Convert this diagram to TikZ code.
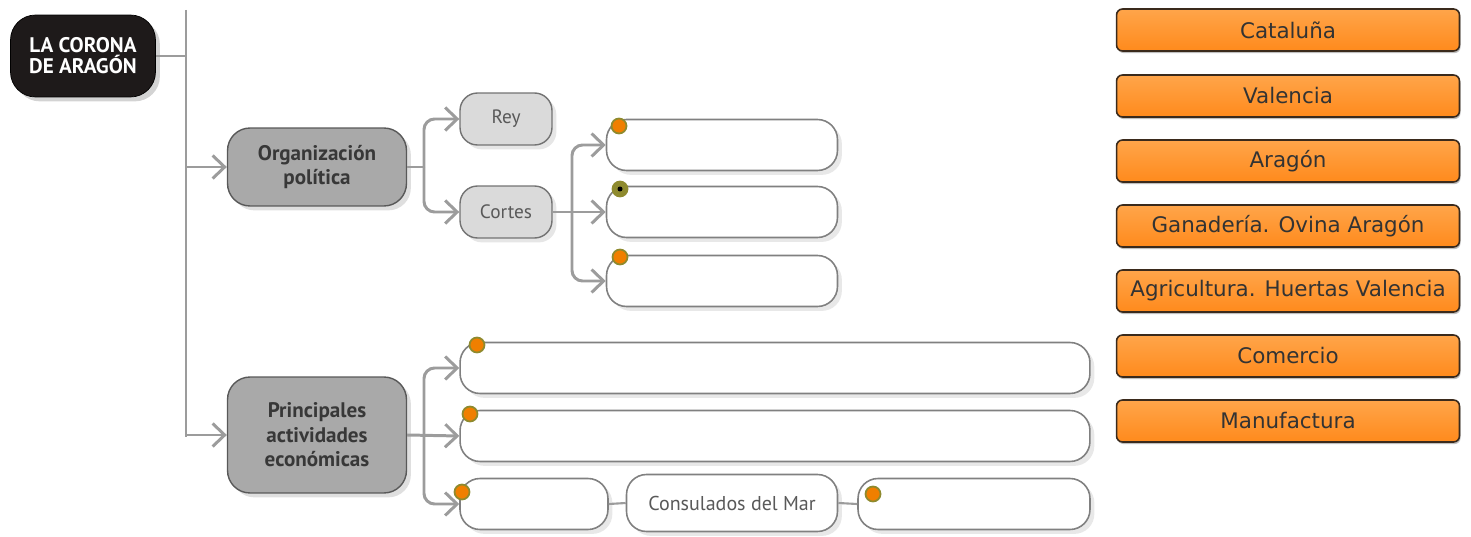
\documentclass[tikz,border=0pt]{standalone}
\usepackage{fontspec}
\setmainfont{PT Sans}
\newfontfamily\boxfont{DejaVu Sans}
\usetikzlibrary{arrows.meta,shadows}
\definecolor{linegray}{HTML}{9C9C9C}
\definecolor{darkbox}{HTML}{1E1A1A}
\definecolor{midbox}{HTML}{A9A9A9}
\definecolor{lightbox}{HTML}{DADADA}
\definecolor{dotorange}{HTML}{F07F00}
\definecolor{dotolive}{HTML}{8E8A2E}
\definecolor{orangeedge}{HTML}{3A2A1C}
\definecolor{orangetop}{HTML}{FFA54A}
\definecolor{orangemid}{HTML}{FFCF9C}
\definecolor{orangebot}{HTML}{FF8A1C}
\begin{document}
\begin{tikzpicture}[x=0.02cm,y=-0.02cm,
  line/.style={draw=linegray,line width=1.7pt},
  arr/.style={line,-{Straight Barb[length=2.4mm,width=4.6mm,line width=1.7pt]}},
  corona/.style={fill=darkbox,draw=black,rounded corners=0.5cm,text=white,font=\bfseries\large,align=center,
    minimum width=2.9cm,minimum height=1.64cm,drop shadow={opacity=0.35}},
  topic/.style={fill=midbox,draw=black!65,line width=0.8pt,rounded corners=0.45cm,text=black!78,
    font=\bfseries\large,align=center,minimum width=3.58cm,drop shadow={opacity=0.25}},
  sub/.style={fill=lightbox,draw=black!55,line width=0.8pt,rounded corners=0.35cm,text=black!65,
    font=\fontsize{11}{13}\selectfont,minimum width=1.84cm,minimum height=1.04cm,drop shadow={opacity=0.2}},
  blank/.style={fill=white,draw=black!50,line width=0.9pt,rounded corners=0.4cm,minimum height=1.02cm,
    drop shadow={opacity=0.18}},
  dot/.style={circle,fill=dotorange,draw=dotolive,line width=1pt,inner sep=0pt,minimum size=0.3cm},
  answer/.style={draw=orangeedge,line width=0.9pt,rounded corners=0.12cm,top color=orangetop,
    middle color=orangemid,bottom color=orangebot,text=black!80,font=\boxfont\fontsize{12.2}{14}\selectfont,
    minimum width=6.86cm,minimum height=0.84cm,drop shadow={opacity=0.5,shadow xshift=0.6pt,shadow yshift=-1.2pt}}]
\useasboundingbox (0,0) rectangle (1471,537);
% main structure
\node (corona) at (83,56) [corona] {LA CORONA\\[-2pt]DE ARAGÓN};
\coordinate (top) at (186,10);
\coordinate (bot) at (186,437);
\node (org) at (317,167) [topic,minimum height=1.56cm] {Organización\\política};
\node (pri) at (317,435) [topic,minimum height=2.32cm] {Principales\\actividades\\económicas};
\draw[line] (corona.east) -- (corona.east -| top);
\draw[line] (top) -- (bot);
\draw[arr] (org.west -| top) -- (org.west);
\draw[arr] (pri.west -| bot) -- (pri.west);
% organizacion politica
\node (rey) at (506,119) [sub] {Rey};
\node (cortes) at (506,212) [sub] {Cortes};
\coordinate (s1) at (424,167);
\draw[line] (org.east) -- (s1);
\draw[arr,rounded corners=6pt] (s1) |- (rey.west);
\draw[arr,rounded corners=6pt] (s1) |- (cortes.west);
\node (w1) at (722,145) [blank,minimum width=4.62cm] {};
\node (w2) at (722,212) [blank,minimum width=4.62cm] {};
\node (w3) at (722,281) [blank,minimum width=4.62cm] {};
\coordinate (s2) at (572,212);
\draw[arr] (cortes.east) -- (w2.west);
\draw[arr,rounded corners=6pt] (s2) |- (w1.west);
\draw[arr,rounded corners=6pt] (s2) |- (w3.west);
% actividades economicas
\node (w4) at (775,368) [blank,minimum width=12.6cm] {};
\node (w5) at (775,436) [blank,minimum width=12.6cm] {};
\node (w6) at (534,504) [blank,minimum width=2.96cm] {};
\node (cons) at (732,503) [blank,minimum width=4.22cm,minimum height=1.14cm,text=black!65,
  font=\fontsize{11.4}{13}\selectfont] {Consulados del Mar};
\node (w7) at (974,504) [blank,minimum width=4.64cm] {};
\coordinate (s3) at (424,435);
\draw[arr] (pri.east) -- (w5.west);
\draw[arr,rounded corners=6pt] (s3) |- (w4.west);
\draw[arr,rounded corners=6pt] (s3) |- (w6.west);
\draw[line,line width=1.2pt] (w6.east) -- (cons.west);
\draw[line,line width=1.2pt] (cons.east) -- (w7.west);
% dots
\node (d1) at (619,126) [dot] {};
\node (d2) at (620,189) [dot,fill=dotolive] {};
\node at (d2) [circle,fill=black,inner sep=0pt,minimum size=0.1cm] {};
\node (d3) at (620,257) [dot] {};
\node (d4) at (477,345) [dot] {};
\node (d5) at (470,414) [dot] {};
\node (d6) at (462,492) [dot] {};
\node (d7) at (873,494) [dot] {};
% answer boxes
\node (a1) at (1288,30) [answer] {Cataluña};
\node (a2) at (1288,96) [answer] {Valencia};
\node (a3) at (1288,161) [answer] {Aragón};
\node (a4) at (1288,226) [answer] {Ganadería. Ovina Aragón};
\node (a5) at (1288,291) [answer] {Agricultura. Huertas Valencia};
\node (a6) at (1288,356) [answer] {Comercio};
\node (a7) at (1288,421) [answer] {Manufactura};
\end{tikzpicture}
\end{document}
